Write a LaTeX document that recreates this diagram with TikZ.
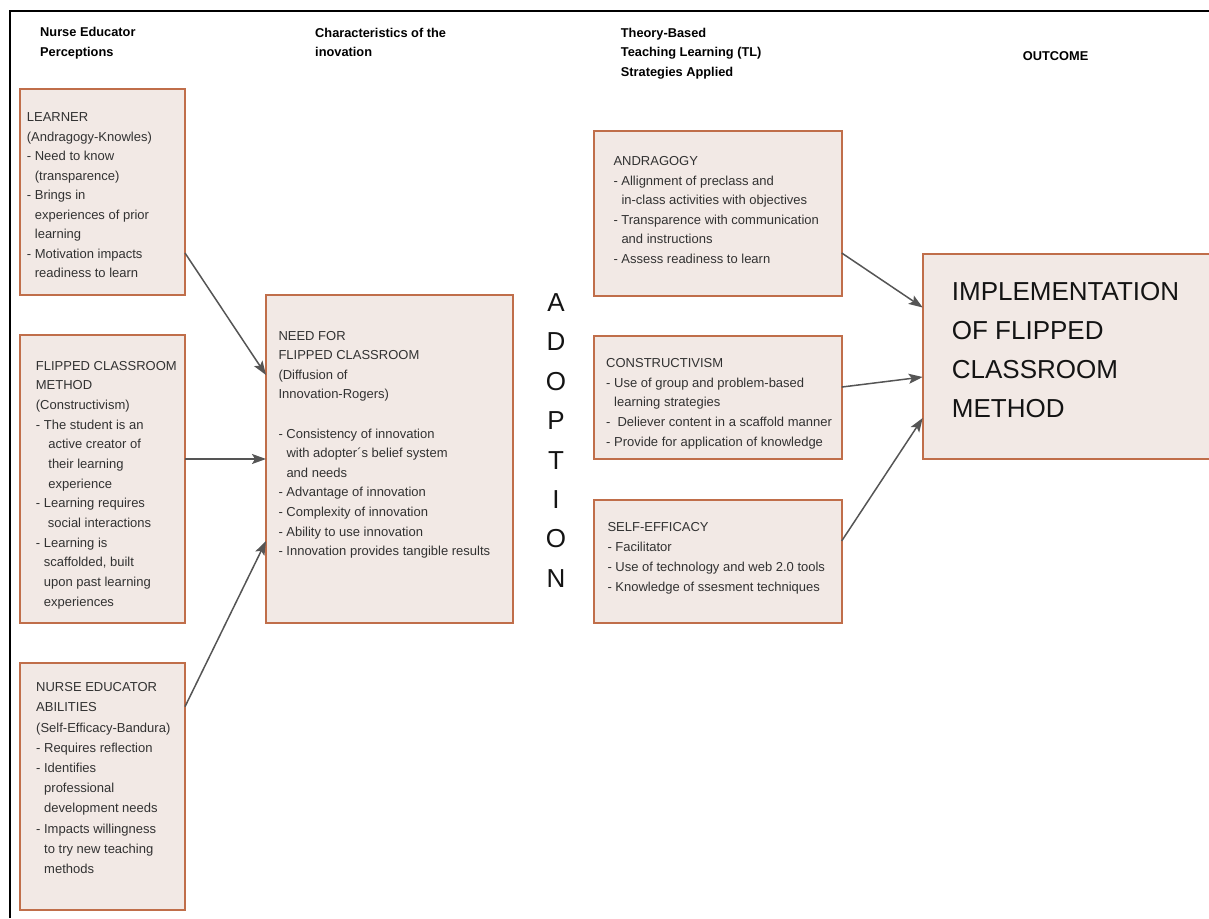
\documentclass[tikz,border=0pt]{standalone}
\usepackage{fontspec}
\setmainfont{Liberation Sans}
\usetikzlibrary{arrows.meta}

\definecolor{boxfill}{RGB}{242,233,229}
\definecolor{boxline}{RGB}{192,110,74}
\definecolor{boxtext}{RGB}{50,50,50}
\definecolor{linkgray}{RGB}{85,85,85}

% indentation of wrapped bullet lines
\newcommand{\ind}[1][8pt]{\hspace*{#1}}
% left-aligned block whose base is the first baseline
\newcommand{\lines}[1]{\begin{tabular}[t]{@{}l@{}}#1\end{tabular}}

\begin{document}
\begin{tikzpicture}[x=1pt,y=-1pt,
  box/.style={draw=boxline, fill=boxfill, line width=2pt, inner sep=0pt,
    outer sep=0pt, anchor=north west},
  boxtxt/.style={anchor=base west, inner sep=0pt, text=boxtext},
  head/.style={anchor=base west, inner sep=0pt, text=black,
    font=\fontsize{12.8}{19.8}\selectfont\bfseries},
  link/.style={draw=linkgray, line width=1.5pt,
    -{Stealth[length=14pt,width=10pt,inset=3pt]}}]

\useasboundingbox (0,0) rectangle (1209,918);
\clip (0,0) rectangle (1209,918);

% outer frame (top and left edges)
\draw[line width=2pt] (10,918) -- (10,11) -- (1209,11);

% column headers
\node[head] (h1) at (40,36.7) {\lines{Nurse Educator\\Perceptions}};
\node[head] (h2) at (315,37) {\lines{Characteristics of the\\inovation}};
\node[head] (h3) at (620.7,37) {\lines{Theory-Based\\Teaching Learning (TL)\\Strategies Applied}};
\node[head] (h4) at (1022.7,60.5) {OUTCOME};

% boxes
\node[box, minimum width=165pt, minimum height=206pt] (learner) at (20,89.3) {};
\node[box, minimum width=165pt, minimum height=288pt] (flipped) at (20,335.3) {};
\node[box, minimum width=165pt, minimum height=246.7pt] (nurse) at (20,663.3) {};
\node[box, minimum width=247.3pt, minimum height=328.6pt] (need) at (266,294.7) {};
\node[box, minimum width=247.7pt, minimum height=165pt] (andra) at (594,130.7) {};
\node[box, minimum width=247.7pt, minimum height=123.3pt] (constr) at (594,335.7) {};
\node[box, minimum width=247.7pt, minimum height=123.3pt] (selfeff) at (594,500) {};
\node[box, minimum width=320pt, minimum height=205pt] (impl) at (922.7,254) {};

% box texts
\node[boxtxt, font=\fontsize{13}{19.5}\selectfont] (t1) at (26.7,121.5) {\lines{%
LEARNER\\
(Andragogy-Knowles)\\
- Need to know\\
\ind(transparence)\\
- Brings in\\
\ind experiences of prior\\
\ind learning\\
- Motivation impacts\\
\ind readiness to learn}};

\node[boxtxt, font=\fontsize{13}{19.67}\selectfont] (t2) at (35.7,370) {\lines{%
FLIPPED CLASSROOM\\
METHOD\\
(Constructivism)\\
- The student is an\\
\ind[12.5pt]active creator of\\
\ind[12.5pt]their learning\\
\ind[12.5pt]experience\\
- Learning requires\\
\ind[12pt]social interactions\\
- Learning is\\
\ind scaffolded, built\\
\ind upon past learning\\
\ind experiences}};

\node[boxtxt, font=\fontsize{13}{20.2}\selectfont] (t3) at (36,691.7) {\lines{%
NURSE EDUCATOR\\
ABILITIES\\
(Self-Efficacy-Bandura)\\
- Requires reflection\\
- Identifies\\
\ind professional\\
\ind development needs\\
- Impacts willingness\\
\ind to try new teaching\\
\ind methods}};

\node[boxtxt, font=\fontsize{13}{19.6}\selectfont] (t4) at (278.3,340) {\lines{%
NEED FOR\\
FLIPPED CLASSROOM\\
(Diffusion of\\
Innovation-Rogers)\\
\\
- Consistency of innovation\\
\ind with adopter´s belief system\\
\ind and needs\\
- Advantage of innovation\\
- Complexity of innovation\\
- Ability to use innovation\\
- Innovation provides tangible results}};

\node[boxtxt, font=\fontsize{13}{19.6}\selectfont] (t5) at (613.3,165.5) {\lines{%
ANDRAGOGY\\
- Allignment of preclass and\\
\ind in-class activities with objectives\\
- Transparence with communication\\
\ind and instructions\\
- Assess readiness to learn}};

\node[boxtxt, font=\fontsize{13}{19.7}\selectfont] (t6) at (606,367.3) {\lines{%
CONSTRUCTIVISM\\
- Use of group and problem-based\\
\ind learning strategies\\
-\ind[7pt]Deliever content in a scaffold manner\\
- Provide for application of knowledge}};

\node[boxtxt, font=\fontsize{13}{19.8}\selectfont] (t7) at (607.3,531.7) {\lines{%
SELF-EFFICACY\\
- Facilitator\\
- Use of technology and web 2.0 tools\\
- Knowledge of ssesment techniques}};

\node[anchor=base west, inner sep=0pt, text=black!92,
  font=\fontsize{26}{38.9}\selectfont] (t8) at (951.7,300.7) {\lines{%
IMPLEMENTATION\\
OF FLIPPED\\
CLASSROOM\\
METHOD}};

% vertical ADOPTION label
\node[anchor=base, inner sep=0pt, text=black!92,
  font=\fontsize{26}{39.4}\selectfont] (adopt) at (556,311.5)
  {\begin{tabular}[t]{@{}c@{}}A\\D\\O\\P\\T\\I\\O\\N\end{tabular}};

% connectors
\draw[link] ([yshift=-60.7pt]learner.east) -- ([yshift=84pt]need.west);
\draw[link] (flipped.east |- need.west) -- (need.west);
\draw[link] ([yshift=80pt]nurse.east) -- ([yshift=-82pt]need.west);
\draw[link] ([yshift=-39.8pt]andra.east) -- ([yshift=49pt]impl.west);
\draw[link] ([yshift=10.3pt]constr.east) -- ([yshift=-20.5pt]impl.west);
\draw[link] ([yshift=20.7pt]selfeff.east) -- ([yshift=-61.5pt]impl.west);
\end{tikzpicture}
\end{document}
